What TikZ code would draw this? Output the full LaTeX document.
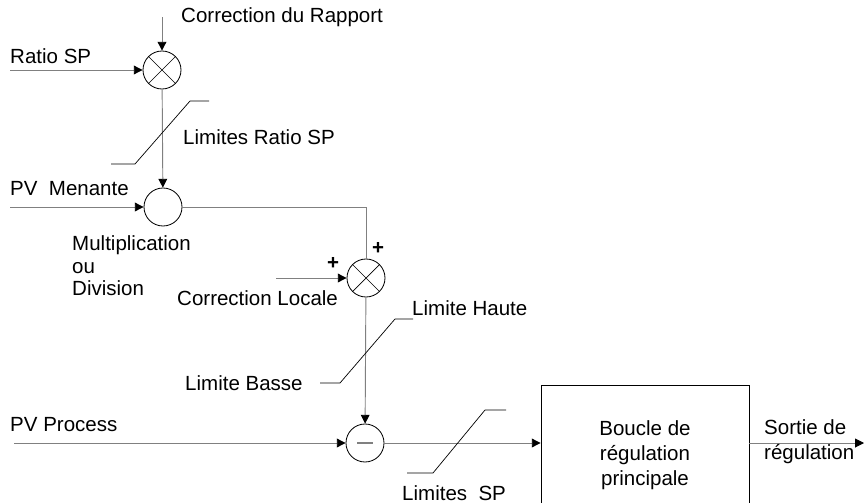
\documentclass[tikz,border=0pt]{standalone}
\usepackage{fontspec}
\setmainfont{Liberation Sans}
\usetikzlibrary{arrows.meta}
\begin{document}
\begin{tikzpicture}[x=0.03cm, y=-0.03cm,
  every node/.style={font=\fontsize{17.5}{21.5}\selectfont},
  sig/.style={draw=gray, line width=0.8pt},
  sigarr/.style={sig, -{Triangle[color=black, length=7.5pt, width=7.5pt]}},
  junc/.style={draw, circle, line width=0.7pt, minimum size=1.14cm, inner sep=0pt},
  lim/.style={draw, line width=0.6pt},
  lbl/.style={anchor=west, inner sep=0pt}]
  \useasboundingbox (0,0) rectangle (864,503);
  % junctions and main loop block
  \node[junc] (rap) at (162,70) {};
  \node[junc] (mul) at (163,207) {};
  \node[junc] (loc) at (366,278) {};
  \node[junc] (cmp) at (365,443) {};
  \node[draw, line width=0.7pt, minimum width=6.24cm, minimum height=4.2cm, align=center] (pid) at (645,455)
    {Boucle de\\régulation\\principale};
  \draw[line width=0.6pt] (rap.north west) -- (rap.south east) (rap.north east) -- (rap.south west);
  \draw[line width=0.6pt] (loc.north west) -- (loc.south east) (loc.north east) -- (loc.south west);
  \draw[sig, line width=1pt] (357,443) -- (373,443);
  % free ends
  \coordinate (rapin) at (162,17);
  \coordinate (ratioin) at (10,70);
  \coordinate (pvmin) at (10,207);
  \coordinate (corner) at (366,207);
  \coordinate (locin) at (276,278);
  \coordinate (pvpin) at (14,443);
  \coordinate (out) at (864,443);
  % signals
  \draw[sigarr] (rapin) -- (rap);
  \draw[sigarr] (ratioin) -- (rap);
  \draw[sigarr] (rap) -- (mul);
  \draw[sigarr] (pvmin) -- (mul);
  \draw[sig] (mul) -- (corner) -- (loc);
  \draw[sigarr] (locin) -- (loc);
  \draw[sigarr] (loc) -- (cmp);
  \draw[sigarr] (pvpin) -- (cmp);
  \draw[sigarr] (cmp) -- (cmp -| pid.west);
  \draw[sigarr] (pid.east |- cmp) -- (out);
  % limiters
  \draw[lim] (111,164) -- (135,164) -- (190,101) -- (209,101);
  \draw[lim] (320,383) -- (340,383) -- (395,319) -- (413,319);
  \draw[lim] (407,473) -- (433,473) -- (485,410) -- (506,410);
  % labels
  \node[lbl] (trap) at (181,17) {Correction du Rapport};
  \node[lbl] (tratio) at (10,56) {Ratio SP};
  \node[lbl] (tlimr) at (183,137) {Limites Ratio SP};
  \node[lbl] (tpvm) at (10,189) {PV\ \ Menante};
  \node[lbl, align=left, font=\fontsize{17.5}{19.2}\selectfont] (tmul) at (72,266) {Multiplication\\ou\\Division};
  \node (pl1) at (378,248) {\textbf{+}};
  \node (pl2) at (333,263) {\textbf{+}};
  \node[lbl] (tloc) at (177,298) {Correction Locale};
  \node[lbl] (tlh) at (412,308) {Limite Haute};
  \node[lbl] (tlb) at (185,383) {Limite Basse};
  \node[lbl] (tpvp) at (10,425) {PV Process};
  \node[lbl] (tlsp) at (402,493) {Limites\ \ SP};
  \node[lbl, align=left] (tout) at (764,442) {Sortie de\\régulation};
\end{tikzpicture}
\end{document}
